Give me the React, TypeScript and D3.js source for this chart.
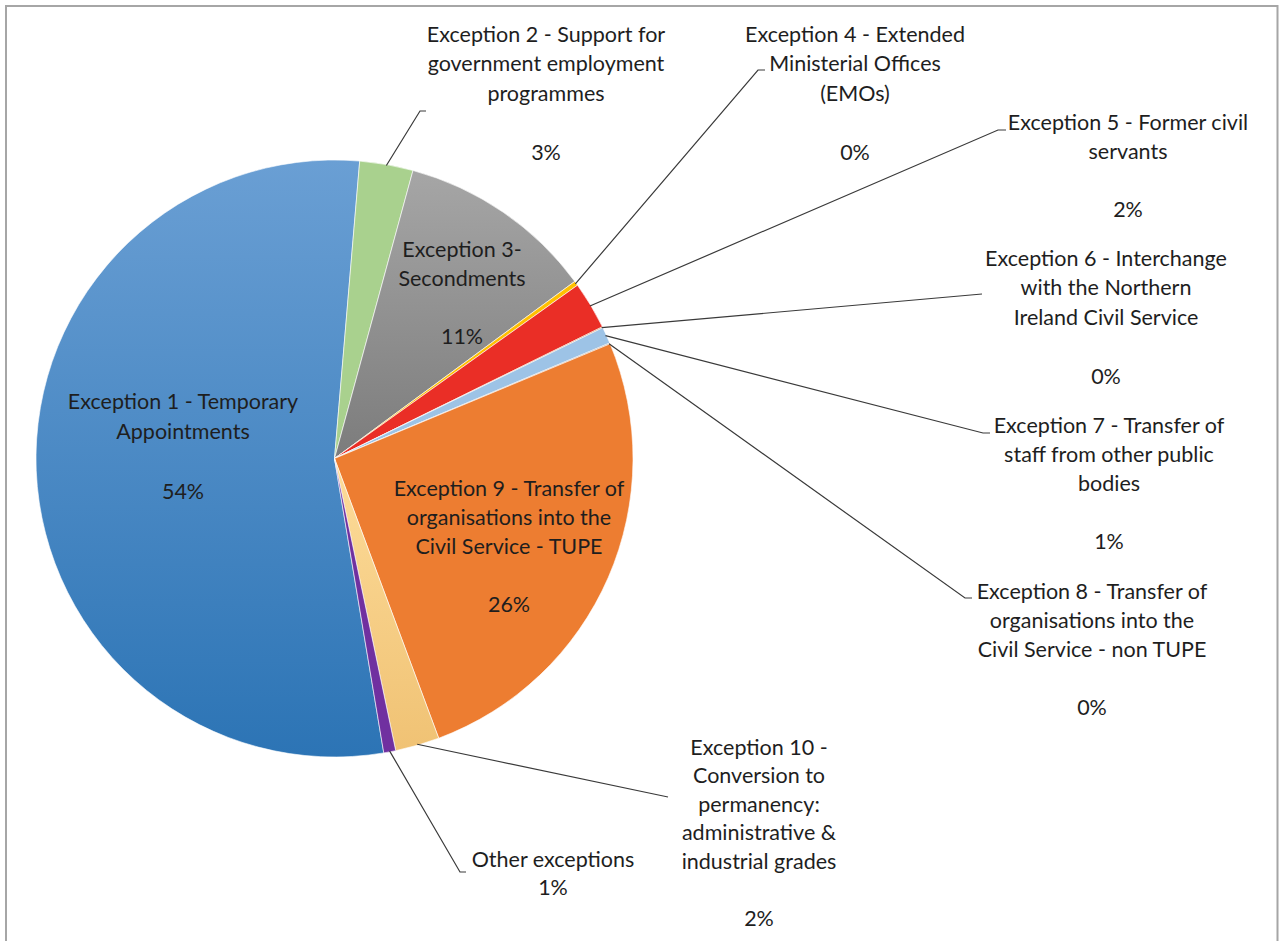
import React from "react";
import * as d3 from "d3";

const categories = [
  "Exception 1 - Temporary Appointments",
  "Exception 2 - Support for government employment programmes",
  "Exception 3- Secondments",
  "Exception 4 - Extended Ministerial Offices (EMOs)",
  "Exception 5 - Former civil servants",
  "Exception 6 - Interchange with the Northern Ireland Civil Service",
  "Exception 7 - Transfer of staff from other public bodies",
  "Exception 8 - Transfer of organisations into the Civil Service - non TUPE",
  "Exception 9 - Transfer of organisations into the Civil Service - TUPE",
  "Exception 10 - Conversion to permanency: administrative & industrial grades",
  "Other exceptions",
];
const values = [54.2, 2.9, 10.7, 0.25, 2.6, 0.05, 0.9, 0.05, 25.7, 2.4, 0.65];
const percentLabels = ["54%", "3%", "11%", "0%", "2%", "0%", "1%", "0%", "26%", "2%", "1%"];
const labelLines = [
  ["Exception 1 - Temporary", "Appointments", "", "54%"],
  ["Exception 2 - Support for", "government employment", "programmes", "", "3%"],
  ["Exception 3-", "Secondments", "", "11%"],
  ["Exception 4 - Extended", "Ministerial Offices", "(EMOs)", "", "0%"],
  ["Exception 5 - Former civil", "servants", "", "2%"],
  ["Exception 6 - Interchange", "with the Northern", "Ireland Civil Service", "", "0%"],
  ["Exception 7 - Transfer of", "staff from other public", "bodies", "", "1%"],
  ["Exception 8 - Transfer of", "organisations into the", "Civil Service - non TUPE", "", "0%"],
  ["Exception 9 - Transfer of", "organisations into the", "Civil Service - TUPE", "", "26%"],
  ["Exception 10 -", "Conversion to", "permanency:", "administrative &", "industrial grades", "", "2%"],
  ["Other exceptions", "1%"],
];
const colors = ["url(#g1)", "#a9d18e", "url(#g3)", "#ffc000", "#ea2e26", "#c55a11", "#9dc3e6", "#7f7f7f", "#ed7d31", "url(#g10)", "#7030a0"];

const labelLayout = [
  { x: 183, y: 403.5, lh: 30 },
  { x: 546, y: 36.5, lh: 29.5 },
  { x: 462, y: 251.5, lh: 29 },
  { x: 855, y: 36.5, lh: 29.5 },
  { x: 1128, y: 124.5, lh: 29 },
  { x: 1106, y: 260.5, lh: 29.5 },
  { x: 1109, y: 427.5, lh: 29 },
  { x: 1092, y: 593.5, lh: 29 },
  { x: 509, y: 490.5, lh: 29 },
  { x: 759, y: 749.5, lh: 28.5 },
  { x: 553, y: 861.5, lh: 28 },
];
const leaderEnds: ([number, number, number] | null)[] = [
  null,
  [420, 111, 426],
  null,
  [758, 70, 765],
  [998, 130, 1006],
  [982, 294, 982],
  [983, 433, 990],
  [965, 598, 972],
  null,
  [668, 797, 668],
  [460, 872, 466],
];

const CX = 334.5;
const CY = 458.5;
const R = 298.5;
const START = (170.5 * Math.PI) / 180;

export default function App() {
  const pie = d3
    .pie<number>()
    .sort(null)
    .value((d) => d)
    .startAngle(START)
    .endAngle(START + 2 * Math.PI);
  const arcs = pie(values);
  const arc = d3.arc<d3.PieArcDatum<number>>().innerRadius(0).outerRadius(R);
  const pt = (a: number, r: number): [number, number] => [Math.sin(a) * r, -Math.cos(a) * r];

  return (
    <svg width={1280} height={941} style={{ position: "absolute", left: 0, top: 0 }}>
      <defs>
        <linearGradient id="g1" x1="0" y1="0" x2="0" y2="1" gradientUnits="objectBoundingBox">
          <stop offset="0" stopColor="#6a9fd4" />
          <stop offset="1" stopColor="#2c74b5" />
        </linearGradient>
        <linearGradient id="g3" x1="0" y1="0" x2="0" y2="1">
          <stop offset="0" stopColor="#a6a6a6" />
          <stop offset="1" stopColor="#7c7c7c" />
        </linearGradient>
        <linearGradient id="g10" x1="0" y1="0" x2="0" y2="1">
          <stop offset="0" stopColor="#fddc9a" />
          <stop offset="1" stopColor="#f0c274" />
        </linearGradient>
      </defs>
      <rect x={0} y={0} width={1280} height={941} fill="#ffffff" />
      <path d="M6,942 V6 H1277.5 V942" fill="none" stroke="#a6a6a6" strokeWidth={2} />
      <g transform={`translate(${CX},${CY})`}>
        {arcs.map((a, i) => (
          <path key={i} d={arc(a) || ""} fill={colors[i]} stroke="#ffffff" strokeWidth={0.6} />
        ))}
      </g>
      <g stroke="#3a3a3a" strokeWidth={1.2} fill="none">
        {arcs.map((a, i) => {
          const e = leaderEnds[i];
          if (!e) return null;
          const mid = (a.startAngle + a.endAngle) / 2;
          const [sx, sy] = pt(mid, R - 1);
          return (
            <polyline
              key={i}
              points={`${CX + sx},${CY + sy} ${e[0]},${e[1]} ${e[2]},${e[1]}`}
            />
          );
        })}
      </g>
      <g fontFamily="Lato, 'Open Sans', sans-serif" fontSize={21.5} fill="#1e1e1e" textAnchor="middle">
        {labelLines.map((lines, i) => (
          <text key={i} x={labelLayout[i].x} y={labelLayout[i].y} dominantBaseline="middle">
            {lines.map((l, j) => (
              <tspan key={j} x={labelLayout[i].x} y={labelLayout[i].y + j * labelLayout[i].lh}>
                {l}
              </tspan>
            ))}
          </text>
        ))}
      </g>
    </svg>
  );
}
